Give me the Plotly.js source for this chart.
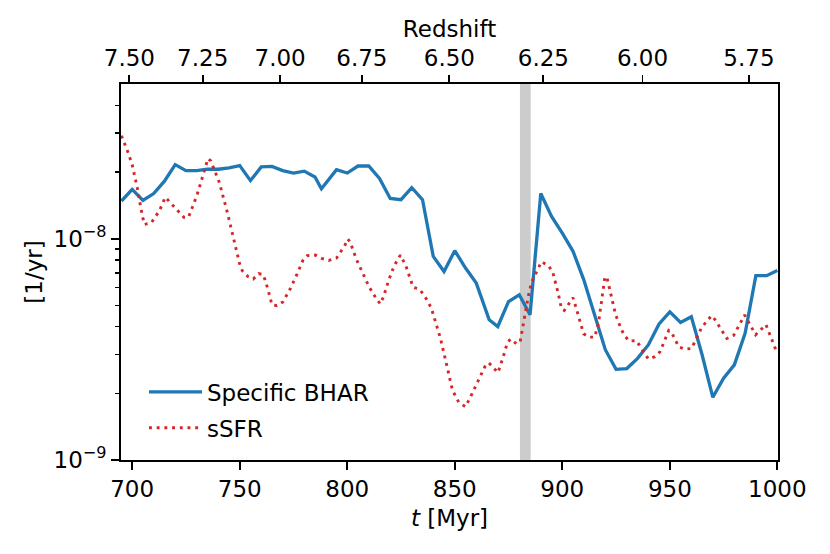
<!DOCTYPE html>
<html>
<head>
<meta charset="utf-8">
<script src="https://cdn.plot.ly/plotly-3.0.1.min.js"></script>
<style>
  html, body { margin: 0; padding: 0; background: #fff; }
  #chart { width: 830px; height: 554px; }
</style>
</head>
<body>
<div id="chart"></div>
<script>
// Specific black hole accretion rate, 1/yr
const bharTime = [695, 700, 705, 710, 715, 720, 725, 730, 735, 740, 745, 750, 755, 760, 765,
  770, 775, 780, 785, 788, 795, 800, 805, 810, 815, 820, 825, 830, 835, 840, 845, 850, 855,
  860, 866, 870, 875, 880, 885, 890, 895, 900, 905, 910, 915, 920, 925, 930, 935, 940, 945,
  950, 955, 960, 965, 970, 975, 980, 985, 990, 995, 1000];
const bharValue = [1.48e-8, 1.67e-8, 1.49e-8, 1.60e-8, 1.82e-8, 2.16e-8, 2.03e-8, 2.03e-8,
  2.06e-8, 2.06e-8, 2.09e-8, 2.14e-8, 1.83e-8, 2.11e-8, 2.12e-8, 2.03e-8, 1.98e-8, 2.02e-8,
  1.90e-8, 1.68e-8, 2.05e-8, 1.98e-8, 2.13e-8, 2.13e-8, 1.87e-8, 1.52e-8, 1.50e-8, 1.70e-8,
  1.50e-8, 8.32e-9, 7.11e-9, 8.83e-9, 7.37e-9, 6.30e-9, 4.30e-9, 4.01e-9, 5.20e-9, 5.58e-9,
  4.53e-9, 1.60e-8, 1.26e-8, 1.06e-8, 8.77e-9, 6.52e-9, 4.53e-9, 3.15e-9, 2.57e-9, 2.59e-9,
  2.88e-9, 3.31e-9, 4.12e-9, 4.67e-9, 4.18e-9, 4.44e-9, 2.99e-9, 1.92e-9, 2.34e-9, 2.69e-9,
  3.74e-9, 6.81e-9, 6.81e-9, 7.19e-9];

// specific star formation rate, 1/yr
const ssfrTime = [695.0, 697.7, 700.0, 702.3, 704.2, 705.6, 708.9, 712.7, 715.4, 719.2, 724.0,
  726.2, 730.1, 733.2, 735.2, 736.5, 740.5, 744.2, 747.6, 750.0, 751.2, 753.8, 756.3, 758.8,
  761.0, 763.1, 765.0, 767.3, 770.1, 773.5, 776.6, 779.4, 781.4, 785.2, 788.1, 791.4, 795.0,
  796.8, 798.8, 800.3, 801.5, 804.2, 807.0, 810.1, 813.8, 815.4, 816.9, 819.1, 821.7, 824.7,
  827.2, 830.6, 833.4, 835.7, 839.1, 843.3, 846.6, 848.9, 851.9, 855.0, 858.0, 861.2, 864.0,
  865.8, 868.1, 870.1, 872.5, 874.5, 876.0, 878.7, 880.4, 882.2, 884.1, 885.7, 888.8, 890.3,
  893.4, 895.5, 898.1, 899.6, 900.9, 905.0, 906.9, 909.9, 912.4, 915.1, 916.9, 918.3, 919.8,
  920.7, 922.3, 924.8, 927.4, 929.0, 931.1, 934.5, 938.1, 940.1, 943.1, 945.4, 949.5, 950.8,
  954.2, 957.0, 960.1, 964.8, 969.4, 971.1, 976.5, 979.7, 984.8, 989.9, 994.7, 999.7];
const ssfrValue = [2.92e-8, 2.51e-8, 2.16e-8, 1.71e-8, 1.35e-8, 1.16e-8, 1.18e-8, 1.34e-8,
  1.54e-8, 1.40e-8, 1.25e-8, 1.25e-8, 1.57e-8, 1.97e-8, 2.30e-8, 2.25e-8, 1.80e-8, 1.32e-8,
  9.68e-9, 7.68e-9, 7.16e-9, 6.75e-9, 6.57e-9, 6.95e-9, 6.88e-9, 5.92e-9, 5.03e-9, 4.98e-9,
  5.18e-9, 5.94e-9, 6.90e-9, 7.98e-9, 8.38e-9, 8.43e-9, 8.15e-9, 7.98e-9, 8.17e-9, 8.67e-9,
  9.29e-9, 9.97e-9, 9.57e-9, 8.09e-9, 7.00e-9, 6.08e-9, 5.30e-9, 5.07e-9, 5.48e-9, 6.41e-9,
  7.50e-9, 8.43e-9, 7.57e-9, 6.04e-9, 5.92e-9, 5.58e-9, 4.86e-9, 3.56e-9, 2.60e-9, 2.07e-9,
  1.82e-9, 1.74e-9, 1.99e-9, 2.30e-9, 2.64e-9, 2.75e-9, 2.60e-9, 2.48e-9, 2.92e-9, 3.40e-9,
  3.52e-9, 3.35e-9, 3.42e-9, 4.30e-9, 5.44e-9, 6.36e-9, 7.34e-9, 7.87e-9, 7.57e-9, 7.11e-9,
  5.66e-9, 4.84e-9, 4.74e-9, 5.41e-9, 4.69e-9, 3.72e-9, 3.59e-9, 3.59e-9, 4.20e-9, 5.30e-9,
  6.71e-9, 6.71e-9, 5.71e-9, 4.53e-9, 3.90e-9, 3.64e-9, 3.45e-9, 3.46e-9, 3.04e-9, 2.86e-9,
  2.93e-9, 3.08e-9, 3.85e-9, 3.77e-9, 3.24e-9, 3.17e-9, 3.19e-9, 3.97e-9, 4.49e-9, 4.30e-9,
  3.54e-9, 3.66e-9, 4.52e-9, 3.68e-9, 4.09e-9, 3.07e-9];

// top axis: redshift labels and the times (Myr) where they sit
const redshiftLabels = ["7.50", "7.25", "7.00", "6.75", "6.50", "6.25", "6.00", "5.75"];
const redshiftTimes = [698.7, 732.8, 768.8, 806.8, 847.5, 891.2, 937.3, 986.8];

// y ticks
const yMajorTicks = [1e-9, 1e-8];
const yMajorLabels = ["10<sup>\u22129</sup>", "10<sup>\u22128</sup>"];
const yMinorTicks = [2e-9, 3e-9, 4e-9, 5e-9, 6e-9, 7e-9, 8e-9, 9e-9, 2e-8, 3e-8, 4e-8];

// shaded time window
const bandStart = 880.3;
const bandEnd = 885.3;

const xRange = [694.8, 1000.3];
const yMin = 1e-9, yMax = 5e-8;

const FONT = "DejaVu Sans, sans-serif";
const FS = 23;

const traces = [
  {
    x: bharTime,
    y: bharValue,
    name: "Specific BHAR",
    mode: "lines",
    legendgroup: "a",
    line: { color: "#1f77b4", width: 3.3 }
  },
  {
    x: ssfrTime,
    y: ssfrValue,
    name: "sSFR",
    mode: "lines",
    legendgroup: "b",
    line: { color: "#d62728", width: 2.9, dash: "2.9px,4.8px" }
  },
  {
    // carrier for the top redshift axis, not shown
    x: bharTime,
    y: bharValue,
    xaxis: "x2",
    mode: "lines",
    line: { width: 0 },
    opacity: 0,
    showlegend: false,
    hoverinfo: "skip"
  }
];

const axisCommon = {
  showgrid: false,
  zeroline: false,
  ticks: "outside",
  ticklen: 8,
  tickwidth: 1.8,
  tickcolor: "#000",
  tickfont: { family: FONT, size: FS, color: "#000" }
};

const layout = {
  width: 830,
  height: 554,
  margin: { l: 121, r: 52, t: 84, b: 94 },
  paper_bgcolor: "#fff",
  plot_bgcolor: "#fff",
  font: { family: FONT, size: FS, color: "#000" },
  showlegend: true,
  legend: {
    x: 0.035, y: 0.028,
    xanchor: "left", yanchor: "bottom",
    bgcolor: "rgba(255,255,255,0.8)",
    font: { family: FONT, size: FS, color: "#000" },
    traceorder: "grouped",
    tracegroupgap: 3,
    itemwidth: 53
  },
  xaxis: Object.assign({}, axisCommon, {
    range: xRange,
    tick0: 700,
    dtick: 50,
    showline: true,
    linewidth: 1.8,
    linecolor: "#000",
    mirror: true,
    title: { text: "<i>t</i> [Myr]", font: { family: FONT, size: FS }, standoff: 8 }
  }),
  xaxis2: Object.assign({}, axisCommon, {
    overlaying: "x",
    side: "top",
    anchor: "y",
    range: xRange,
    tickmode: "array",
    tickvals: redshiftTimes,
    ticktext: redshiftLabels,
    showline: false,
    title: { text: "Redshift", font: { family: FONT, size: FS }, standoff: 0 }
  }),
  yaxis: Object.assign({}, axisCommon, {
    type: "log",
    range: [Math.log10(yMin), Math.log10(yMax)],
    tickmode: "array",
    tickvals: yMajorTicks,
    ticktext: yMajorLabels,
    showline: true,
    linewidth: 1.8,
    linecolor: "#000",
    mirror: true,
    minor: {
      tickmode: "array",
      tickvals: yMinorTicks,
      ticks: "outside",
      ticklen: 4.6,
      tickwidth: 1.4,
      tickcolor: "#000",
      showgrid: false
    },
    title: { text: "[1/yr]", font: { family: FONT, size: FS }, standoff: 4 }
  }),
  shapes: [
    {
      type: "rect",
      xref: "x",
      yref: "paper",
      x0: bandStart,
      x1: bandEnd,
      y0: 0,
      y1: 1,
      fillcolor: "#cccccc",
      line: { width: 0 },
      layer: "below"
    }
  ]
};

Plotly.newPlot("chart", traces, layout, { displayModeBar: false, staticPlot: true });
</script>
</body>
</html>
